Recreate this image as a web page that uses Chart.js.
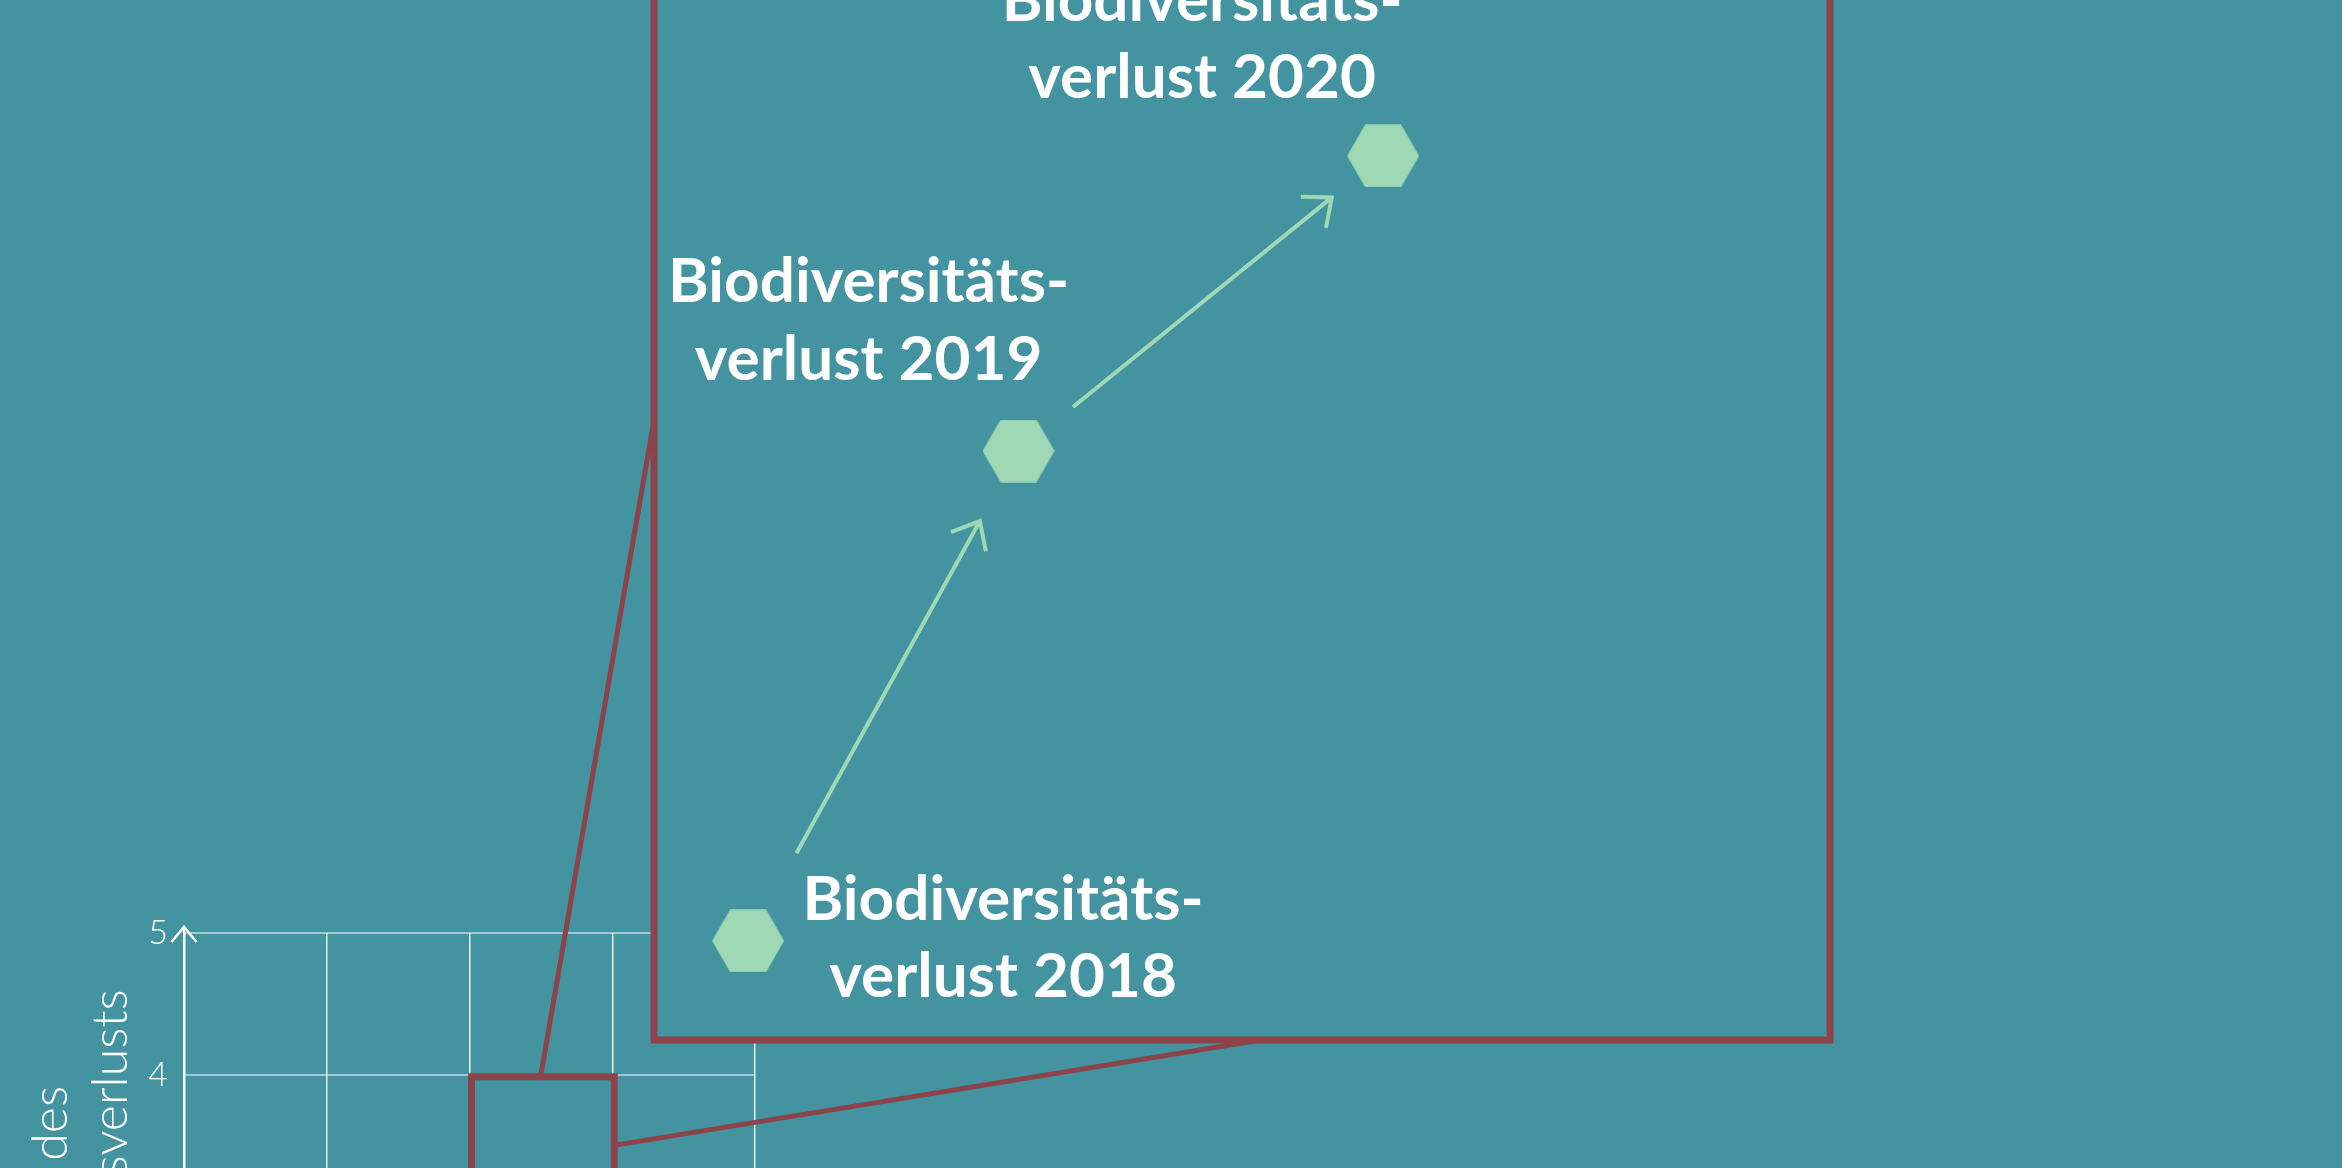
<!DOCTYPE html>
<html lang="de">
<head>
<meta charset="utf-8">
<title>Biodiversitätsverlust</title>
<script src="https://cdn.jsdelivr.net/npm/chart.js@4.4.1/dist/chart.umd.min.js"></script>
<style>
  html, body { margin: 0; padding: 0; width: 2342px; height: 1168px; overflow: hidden; background: #4394a0; }
  canvas { position: absolute; left: 0; top: -200px; }
</style>
</head>
<body>
<canvas id="overview" width="900" height="1900"></canvas>
<canvas id="zoom" width="2342" height="1400"></canvas>
<script>
// daten
const jahre = ['2018', '2019', '2020'];
const verlustX = [2.08, 2.31, 2.62];
const verlustY = [3.08, 3.475, 3.713];
const xTicks = [0, 1, 2, 3, 4];
const yTicks = [1, 2, 3, 4, 5];
const ausschnittX = [2, 3];
const ausschnittY = [3, 4];
const yTitel = ['Ausmaß des', 'Biodiversitätsverlusts'];
const labelZeilen = jahre.map(j => ['Biodiversitäts-', 'verlust ' + j]);

// nur platzierung / stil
const labelOffset = [[255, -21], [-150, -149], [-181, -135]];
const pfeilAbstand = [[100, 80], [70, 66]];
const TEAL = '#4394a0';
const ROT = '#8c444a';
const MINT = '#9fd8b4';
const WEISS = '#ffffff';

const hexagon = (r) => {
    const c = document.createElement('canvas');
    c.width = Math.ceil(2 * r);
    c.height = Math.ceil(Math.sqrt(3) * r);
    const g = c.getContext('2d');
    g.fillStyle = MINT;
    g.beginPath();
    for (let i = 0; i < 6; i++) {
        const a = i * Math.PI / 3;
        g.lineTo(c.width / 2 + r * Math.cos(a), c.height / 2 + r * Math.sin(a));
    }
    g.closePath();
    g.fill();
    return c;
}

// pfeil an der y-achse + kleiner ausschnitt-rahmen
const ausschnittPlugin = {
    id: 'ausschnitt',
    afterDraw(chart) {
        const {ctx, scales: {x, y}} = chart;
        const top = y.getPixelForValue(yTicks[yTicks.length - 1]);
        const ax = chart.chartArea.left;
        ctx.save();
        ctx.strokeStyle = WEISS;
        ctx.lineWidth = 2.5;
        ctx.beginPath();
        ctx.moveTo(ax, top);
        ctx.lineTo(ax, top - 6);
        ctx.stroke();
        ctx.beginPath();
        ctx.moveTo(ax - 12.5, top + 9);
        ctx.lineTo(ax, top - 6);
        ctx.lineTo(ax + 12.5, top + 9);
        ctx.stroke();

        const x0 = x.getPixelForValue(ausschnittX[0]);
        const x1 = x.getPixelForValue(ausschnittX[1]);
        const y0 = y.getPixelForValue(ausschnittY[1]);
        const y1 = y.getPixelForValue(ausschnittY[0]);
        ctx.strokeStyle = ROT;
        ctx.lineWidth = 7;
        ctx.strokeRect(x0 + 2, y0 + 2, x1 - x0, y1 - y0);
        ctx.restore();
    }
};

const overview = new Chart(document.getElementById('overview'), {
    type: 'scatter',
    data: { datasets: [] },
    options: {
        responsive: false,
        animation: false,
        events: [],
        layout: { padding: { top: 1133, right: 145, bottom: 100, left: 0 } },
        plugins: { legend: { display: false }, tooltip: { enabled: false } },
        scales: {
            x: {
                type: 'linear',
                min: xTicks[0],
                max: xTicks[xTicks.length - 1],
                ticks: { stepSize: 1, color: WEISS, font: { family: 'Lato', size: 34, weight: 300 } },
                grid: { color: 'rgba(255,255,255,0.85)', lineWidth: 1.5, drawTicks: false },
                border: { display: false },
                afterFit: (s) => { s.height = 100; }
            },
            y: {
                type: 'linear',
                min: yTicks[0],
                max: yTicks[yTicks.length - 1],
                ticks: { stepSize: 1, padding: 16, color: WEISS, font: { family: 'Lato', size: 34, weight: 300 } },
                grid: { color: 'rgba(255,255,255,0.5)', lineWidth: 2, drawTicks: false },
                border: { color: WEISS, width: 2.5 },
                title: {
                    display: true,
                    text: yTitel,
                    color: WEISS,
                    font: { family: 'Lato', size: 50, weight: 300, lineHeight: 1.2 },
                    padding: { top: 21, bottom: 0 }
                },
                afterFit: (s) => { s.width = 184; }
            }
        }
    },
    plugins: [ausschnittPlugin]
});

// lupe: verbindungslinien, rahmen, pfeile, beschriftung
const lupePlugin = {
    id: 'lupe',
    beforeDraw(chart) {
        const {ctx, scales: {x, y}} = chart;
        const ox = overview.scales.x, oy = overview.scales.y;
        const mitteX = (ausschnittX[0] + ausschnittX[1]) / 2;
        const mitteY = (ausschnittY[0] + ausschnittY[1]) / 2;
        ctx.save();
        ctx.strokeStyle = ROT;
        ctx.lineWidth = 5;
        ctx.beginPath();
        ctx.moveTo(ox.getPixelForValue(mitteX), oy.getPixelForValue(ausschnittY[1]));
        ctx.lineTo(x.getPixelForValue(ausschnittX[0]), y.getPixelForValue(mitteY));
        ctx.moveTo(ox.getPixelForValue(ausschnittX[1]), oy.getPixelForValue(mitteY));
        ctx.lineTo(x.getPixelForValue(mitteX + 0.016), y.getPixelForValue(ausschnittY[0]));
        ctx.stroke();
        ctx.restore();
    },
    beforeDatasetsDraw(chart) {
        const {ctx, chartArea: a} = chart;
        ctx.save();
        ctx.fillStyle = TEAL;
        ctx.fillRect(a.left, a.top, a.width, a.height);
        ctx.strokeStyle = ROT;
        ctx.lineWidth = 7;
        ctx.strokeRect(a.left, a.top, a.width, a.height);
        ctx.restore();
    },
    afterDatasetsDraw(chart) {
        const {ctx} = chart;
        const pts = chart.getDatasetMeta(0).data;
        ctx.save();
        ctx.strokeStyle = MINT;
        ctx.lineWidth = 4;
        ctx.lineCap = 'butt';
        for (let i = 0; i < pts.length - 1; i++) {
            const p0 = pts[i], p1 = pts[i + 1];
            const dx = p1.x - p0.x, dy = p1.y - p0.y;
            const len = Math.hypot(dx, dy);
            const ux = dx / len, uy = dy / len;
            const sx = p0.x + ux * pfeilAbstand[i][0], sy = p0.y + uy * pfeilAbstand[i][0];
            const ex = p1.x - ux * pfeilAbstand[i][1], ey = p1.y - uy * pfeilAbstand[i][1];
            ctx.beginPath();
            ctx.moveTo(sx, sy);
            ctx.lineTo(ex, ey);
            const back = Math.atan2(-uy, -ux);
            const w = 40 * Math.PI / 180;
            ctx.moveTo(ex + 31 * Math.cos(back + w), ey + 31 * Math.sin(back + w));
            ctx.lineTo(ex, ey);
            ctx.lineTo(ex + 31 * Math.cos(back - w), ey + 31 * Math.sin(back - w));
            ctx.stroke();
        }
        ctx.fillStyle = WEISS;
        ctx.font = 'bold 62px Lato';
        ctx.textAlign = 'center';
        ctx.textBaseline = 'alphabetic';
        pts.forEach((p, i) => {
            labelZeilen[i].forEach((z, k) => {
                ctx.fillText(z, p.x + labelOffset[i][0], p.y + labelOffset[i][1] + k * 77.5);
            });
        });
        ctx.restore();
    }
};

const zoomChart = new Chart(document.getElementById('zoom'), {
    type: 'scatter',
    data: {
        datasets: [{
            label: 'Biodiversitätsverlust',
            data: verlustX.map((v, i) => ({ x: v, y: verlustY[i] })),
            pointStyle: hexagon(36),
            pointRadius: 36,
            pointHoverRadius: 36
        }]
    },
    options: {
        responsive: false,
        animation: false,
        events: [],
        clip: false,
        layout: { autoPadding: false, padding: { top: 0, right: 512, bottom: 160, left: 654 } },
        plugins: { legend: { display: false }, tooltip: { enabled: false } },
        scales: {
            x: { type: 'linear', display: false, min: ausschnittX[0], max: ausschnittX[1] },
            y: { type: 'linear', display: false, min: ausschnittY[0], max: ausschnittY[1] }
        }
    },
    plugins: [lupePlugin]
});
</script>
</body>
</html>
